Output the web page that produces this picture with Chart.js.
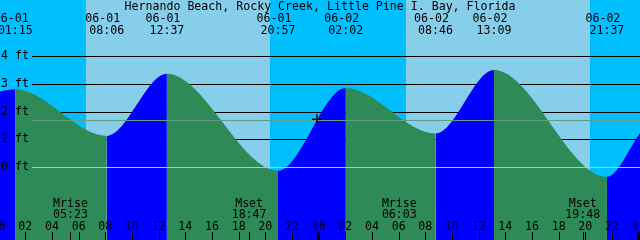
<!DOCTYPE html>
<html>
<head>
<meta charset="utf-8">
<script src="https://cdn.jsdelivr.net/npm/chart.js@4.4.7/dist/chart.umd.min.js"></script>
<style>
  html, body { margin: 0; padding: 0; background: #00bfff; }
  #tideChart { display: block; }
</style>
</head>
<body>
<canvas id="tideChart" width="640" height="240"></canvas>
<script>
// ===== データ =====
const STATION = 'Hernando Beach, Rocky Creek, Little Pine I. Bay, Florida';

// 満潮・干潮
const eventDates = ['06-01', '06-01', '06-01', '06-01', '06-02', '06-02', '06-02', '06-02'];
const eventTimes = ['01:15', '08:06', '12:37', '20:57', '02:02', '08:46', '13:09', '21:37'];
const eventFeet  = [2.8, 1.12, 3.36, -0.13, 2.85, 1.21, 3.5, -0.35];

// 表示範囲の両端での潮位（06-01 00:00 からの時間）
const edgeHours = [0.1, 48.1];
const edgeFeet  = [2.72, 1.22];

// 日の出・日の入り
const sunDates    = ['06-01', '06-02'];
const sunriseTimes = ['06:33', '06:33'];
const sunsetTimes  = ['20:21', '20:21'];

// 月の出・月の入り
const moonLabels = ['Mrise', 'Mset', 'Mrise', 'Mset'];
const moonDates  = ['06-01', '06-01', '06-02', '06-02'];
const moonTimes  = ['05:23', '18:47', '06:03', '19:48'];

// 軸ラベル
const hourLabels = ['00', '02', '04', '06', '08', '10', '12', '14', '16', '18', '20', '22'];
const feetTicks  = [0, 1, 2, 3, 4];
const gridFeet   = [1, 2, 3, 4];
const meanFeet   = 1.68;

// 現在時刻マーカー
const nowHour = 23.87;
const nowFeet = 1.72;

// ===== 色・フォント =====
const NIGHT = '#00bfff';
const DAY = '#87ceeb';
const RISE = '#0000ff';
const FALL = '#2e8b57';
const ZERO_LINE = '#94d2ea';
const MEAN_LINE = '#5f9f88';
const FONT = '11.6px "DejaVu Sans Mono", "Liberation Mono", monospace';
const GUTTER = 32;

function toHours(date, time) {
  const day = parseInt(date.slice(3), 10) - 1;
  const [hh, mm] = time.split(':').map(Number);
  return day * 24 + hh + mm / 60;
}

const tidePoints = [{ x: edgeHours[0], y: edgeFeet[0] }]
  .concat(eventTimes.map((t, i) => ({ x: toHours(eventDates[i], t), y: eventFeet[i] })))
  .concat([{ x: edgeHours[1], y: edgeFeet[1] }]);

function hline(chart, value, color) {
  const y = Math.round(chart.scales.y.getPixelForValue(value));
  chart.ctx.fillStyle = color;
  chart.ctx.fillRect(GUTTER, y, chart.width - GUTTER, 1);
}

// ===== 装飾プラグイン =====
const tideDecor = {
  id: 'tideDecor',
  beforeDraw(chart) {
    const { ctx } = chart;
    const xs = chart.scales.x;
    ctx.save();
    ctx.fillStyle = NIGHT;
    ctx.fillRect(0, 0, chart.width, chart.height);
    ctx.fillStyle = DAY;
    sunDates.forEach((d, i) => {
      const x0 = Math.round(xs.getPixelForValue(toHours(d, sunriseTimes[i])));
      const x1 = Math.round(xs.getPixelForValue(toHours(d, sunsetTimes[i])));
      ctx.fillRect(x0, 0, x1 - x0, chart.height);
    });
    ctx.restore();
  },
  beforeDatasetsDraw(chart) {
    chart.ctx.save();
    gridFeet.forEach(v => hline(chart, v, '#000'));
    chart.ctx.restore();
  },
  afterDatasetDraw(chart, args) {
    if (args.index !== 0) return;
    chart.ctx.save();
    hline(chart, 0, ZERO_LINE);
    hline(chart, meanFeet, MEAN_LINE);
    chart.ctx.restore();
  },
  afterDraw(chart) {
    const { ctx } = chart;
    const xs = chart.scales.x;
    ctx.save();
    ctx.font = FONT;
    ctx.fillStyle = '#000';
    ctx.textAlign = 'center';
    ctx.textBaseline = 'alphabetic';

    ctx.fillText(STATION, chart.width / 2, 10);

    eventTimes.forEach((t, i) => {
      const x = xs.getPixelForValue(toHours(eventDates[i], t));
      ctx.fillText(eventDates[i], x - 4, 22);
      ctx.fillText(t, x, 34);
    });

    moonTimes.forEach((t, i) => {
      const x = xs.getPixelForValue(toHours(moonDates[i], t));
      ctx.fillText(moonLabels[i], x, 206.5);
      ctx.fillText(t, x, 218);
      ctx.fillRect(Math.round(x), 232, 1, 8);
    });

    for (let day = 0; day <= 2; day++) {
      hourLabels.forEach(lbl => {
        const h = day * 24 + parseInt(lbl, 10);
        if (h > 48) return;
        const x = xs.getPixelForValue(h);
        ctx.fillText(lbl, x, 230);
        if (h % 24 === 0) {
          ctx.fillRect(Math.round(x) - 2, 232, 3, 8);
        } else {
          ctx.fillRect(Math.round(x), 232, 1, 8);
        }
      });
    }
    ctx.restore();
  }
};

// ===== チャート =====
new Chart(document.getElementById('tideChart'), {
  type: 'line',
  data: {
    datasets: [
      {
        data: tidePoints,
        borderColor: 'rgba(0,0,0,0)',
        borderWidth: 0,
        pointRadius: 0,
        fill: 'start',
        backgroundColor: FALL,
        cubicInterpolationMode: 'monotone',
        segment: {
          backgroundColor: c => (c.p1.parsed.y > c.p0.parsed.y ? RISE : FALL)
        },
        order: 2
      },
      {
        data: [{ x: nowHour, y: nowFeet }],
        showLine: false,
        pointStyle: 'cross',
        pointRadius: 5,
        pointBorderWidth: 1.5,
        pointBorderColor: '#000',
        order: 1
      }
    ]
  },
  options: {
    responsive: false,
    animation: false,
    events: [],
    layout: { padding: 0, autoPadding: false },
    plugins: {
      legend: { display: false },
      tooltip: { enabled: false }
    },
    scales: {
      x: { type: 'linear', min: 0.1, max: 48.1, display: false },
      y: {
        type: 'linear',
        min: -2.63,
        max: 6.02,
        position: 'left',
        afterFit: s => {
          s.width = 0;
          s.paddingTop = 0;
          s.paddingBottom = 0;
          s.paddingLeft = 0;
          s.paddingRight = 0;
        },
        afterBuildTicks: s => { s.ticks = feetTicks.map(v => ({ value: v })); },
        grid: { display: false },
        border: { display: false },
        ticks: {
          mirror: true,
          padding: 1,
          z: 1,
          color: '#000',
          font: { family: '"DejaVu Sans Mono", "Liberation Mono", monospace', size: 11.6 },
          callback: v => v + ' ft'
        }
      }
    }
  },
  plugins: [tideDecor]
});
</script>
</body>
</html>
